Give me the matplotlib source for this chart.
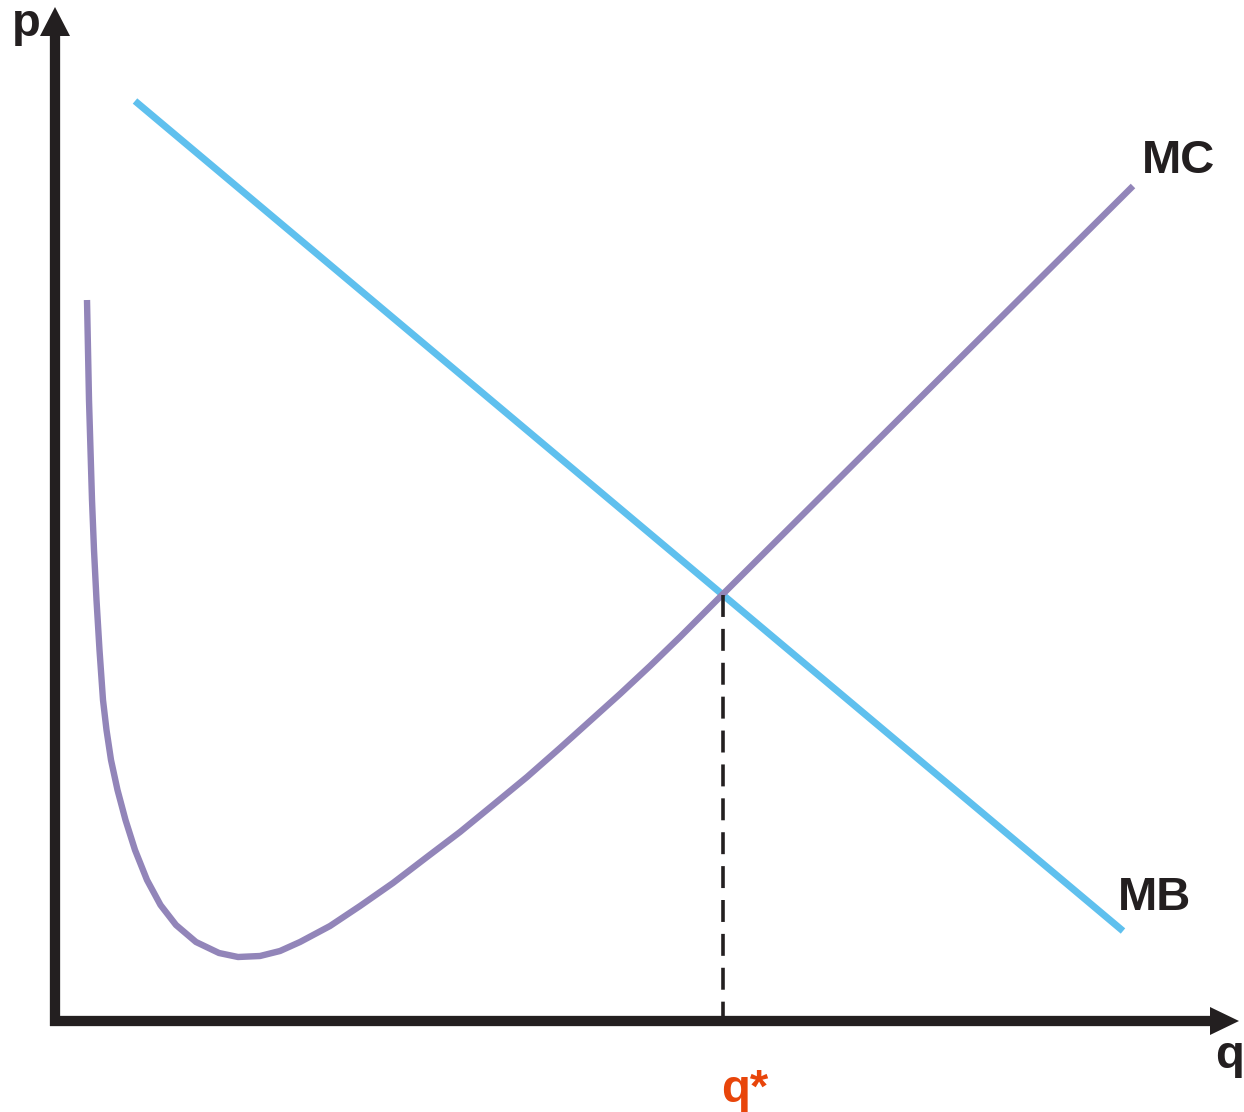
import matplotlib.pyplot as plt

plt.rcParams['font.family'] = ['Liberation Sans', 'DejaVu Sans']
plt.rcParams['lines.scale_dashes'] = False

# --- data (origin at the axes corner) ---
MB_Q = [80, 1068]
MB_P = [920, 90]

MC_Q = [32, 33, 34, 35.5, 37, 39, 41.5, 44.5, 48, 51.5, 56, 62.5, 70.5,
        80, 92, 105.5, 121, 141, 164, 183, 205, 225, 245, 275, 305, 338,
        372, 405, 438, 472, 505, 535, 565, 595, 625, 668, 1078]
MC_P = [721, 671, 621, 571, 521, 471, 421, 371, 321, 291, 261, 231, 201,
        171, 141, 116, 96, 79, 68, 64, 65, 70, 79, 95, 115, 138, 164, 189,
        216, 244, 273, 300, 327, 355, 384, 427, 835]

Q_STAR = 668
P_STAR = 427

INK = '#231F20'
MB_COLOR = '#5FC0EE'
MC_COLOR = '#9285B9'
STAR_COLOR = '#E8450A'

fig = plt.figure(figsize=(12.44, 11.12), dpi=100)
ax = fig.add_axes([0, 0, 1, 1])
ax.set_xlim(-55, 1189)
ax.set_ylim(-91, 1021)
ax.axis('off')

# axes with arrow heads
ax.plot([0, 0], [-5, 986], color=INK, lw=7.4, solid_capstyle='butt')
ax.plot([-5, 1156], [0, 0], color=INK, lw=7.4, solid_capstyle='butt')
ax.fill([-15, 15, 0], [985, 985, 1014], color=INK, lw=0)
ax.fill([1155, 1155, 1184], [14, -14, 0], color=INK, lw=0)

# curves
ax.plot(MB_Q, MB_P, color=MB_COLOR, lw=5.0, solid_capstyle='butt')
ax.plot(MC_Q, MC_P, color=MC_COLOR, lw=4.6, solid_capstyle='butt',
        solid_joinstyle='round')

# q* guide
ax.plot([Q_STAR, Q_STAR], [P_STAR - 1, 0], color=INK, lw=2.6,
        linestyle=(0, (15.8, 8.6)))

# labels
lab = dict(fontsize=34, fontweight='bold', va='baseline', ha='left')
ax.text(-43, 985, 'p', color=INK, **lab)
ax.text(1087, 848, 'MC', color=INK, **lab)
ax.text(1063, 111, 'MB', color=INK, **lab)
ax.text(1160, -47, 'q', color=INK, **lab)
ax.text(Q_STAR - 2, -81, 'q*', color=STAR_COLOR, **lab)

fig.savefig('out.png', dpi=100)
